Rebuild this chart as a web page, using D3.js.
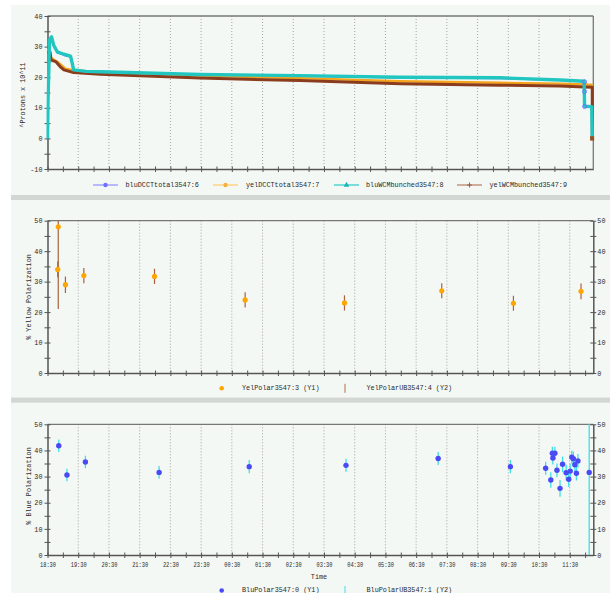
<!DOCTYPE html>
<html><head><meta charset="utf-8">
<script src="https://cdn.jsdelivr.net/npm/d3@7"></script>
<style>body{margin:0;background:#fff}svg{display:block}</style>
</head><body><svg id="c" width="610" height="593"></svg>
<script>
// ---------------- DATA ----------------
const tickLabels = ["18:30","19:30","20:30","21:30","22:30","23:30","00:30","01:30","02:30","03:30","04:30","05:30","06:30","07:30","08:30","09:30","10:30","11:30"];
const timeStart = "18:30", timeEnd = "12:16";

// Panel 1 : beam intensity (Protons x 10^11)
const bluDCCTtime = ["18:30","18:31","18:34","18:38","18:42","18:49","19:02","19:15","19:19","19:21","19:45","20:13","23:28","02:43","05:59","09:14","11:11","11:59","11:59","11:59","12:13","12:14"];
const bluDCCTval  = [0,12,31.5,32.5,30,28,27.2,26.6,23.8,22.2,21.7,21.6,20.7,20.3,19.8,19.6,19.0,18.5,15.3,10.4,10.4,0];
const yelDCCTtime = ["18:30","18:33","18:36","18:52","19:05","19:21","20:13","23:28","02:43","05:59","09:14","11:11","11:59","12:15"];
const yelDCCTval  = [29.1,28.6,26.4,24.7,22.8,22.2,21.7,20.5,19.7,18.7,18.2,17.9,17.6,17.5];
const bluWCMtime  = ["18:30","18:31","18:34","18:38","18:42","18:49","19:02","19:15","19:19","19:21","19:45","20:13","23:28","02:43","05:59","09:14","11:11","11:58","11:59","12:13","12:14"];
const bluWCMval   = [0,12,32.2,33.2,30.5,28.3,27.5,26.9,24.0,22.4,21.9,21.8,20.9,20.5,20.0,19.8,19.1,18.7,10.5,10.4,0];
const yelWCMtime  = ["18:30","18:35","18:37","18:46","18:55","19:02","19:21","20:13","23:28","02:43","05:59","09:14","11:11","11:59","12:14","12:14"];
const yelWCMval   = [28.2,28.2,25.6,25.1,23.4,22.4,21.5,21.0,19.7,18.9,17.9,17.4,17.1,16.8,16.7,0];
const legend1 = ["bluDCCTtotal3547:6","yelDCCTtotal3547:7","bluWCMbunched3547:8","yelWCMbunched3547:9"];

// Panel 2 : yellow polarization
const yelPolTime = ["18:51","18:50","19:05","19:41","21:59","00:56","04:10","07:20","09:40","11:52"];
const yelPolVal  = [48.0,34.0,29.0,32.0,31.7,24.0,23.0,27.0,22.9,26.8];
const yelPolErr  = [27,2.6,2.7,2.5,2.5,2.5,2.5,2.5,2.5,2.6];
const legend2 = ["YelPolar3547:3 (Y1)","YelPolarUB3547:4 (Y2)"];

// Panel 3 : blue polarization
const bluPolTime = ["18:52","19:08","19:44","22:08","01:04","04:13","07:13","09:34","10:43","10:53","10:56","11:01","10:57","11:05","11:11","11:16","11:23","11:28","11:31","11:34","11:37","11:40","11:43","11:46","12:08"];
const bluPolVal  = [41.8,30.6,35.6,31.6,33.8,34.3,36.9,33.8,33.2,28.7,38.9,38.9,37.1,32.4,25.5,34.7,31.5,29.0,32.1,37.4,36.8,34.5,31.3,36.0,31.6];
const bluPolErr  = [2.4,2.4,2.4,2.4,2.5,2.5,2.5,2.5,2.5,3.0,2.5,2.5,2.5,2.6,3.2,3.0,3.0,3.0,2.8,2.5,2.8,3.0,2.8,2.6,35];
const legend3 = ["BluPolar3547:0 (Y1)","BluPolarUB3547:1 (Y2)"];

// ---------------- HELPERS ----------------
function toDate(s){const [h,m]=s.split(":").map(Number);return new Date(2009,2,(h>=18?10:11),h,m);}
const FONT = "'Liberation Mono','DejaVu Sans Mono',monospace";
const TXT = "#2a2a2a";
const FS = 6.8;
const svg = d3.select("#c");
const W = 610, H = 593;

svg.append("rect").attr("width",W).attr("height",H).attr("fill","#ffffff");
const panelBoxes = [[5,195],[200,397.5],[402.7,593]];
panelBoxes.forEach(p=>svg.append("rect").attr("x",11).attr("y",p[0]).attr("width",W-11).attr("height",p[1]-p[0]).attr("fill","#f4f8f5"));
[[195,5],[397.5,5.2]].forEach(s=>svg.append("rect").attr("x",11).attr("y",s[0]).attr("width",W-11).attr("height",s[1]).attr("fill","#d3d7d3"));

const X0 = 47.5, X1 = 593.3;
const x = d3.scaleTime().domain([toDate(timeStart),toDate(timeEnd)]).range([X0,X1]);
const halfHours = d3.timeMinute.every(30).range(toDate(timeStart), toDate(timeEnd));
const labelDates = tickLabels.map(toDate);
const isLabel = d => tickLabels.includes(d3.timeFormat("%H:%M")(d));

function frame(top, bottom, yDomain, opts){
  const y = d3.scaleLinear().domain(yDomain).range([bottom, top]);
  const g = svg.append("g");
  g.selectAll("line.grid").data(labelDates.slice(1)).join("line")
    .attr("x1",d=>x(d)).attr("x2",d=>x(d)).attr("y1",top).attr("y2",bottom)
    .attr("stroke","#9a9a9a").attr("stroke-width",0.9).attr("stroke-dasharray","1,2");
  g.append("line").attr("x1",X0).attr("x2",X1).attr("y1",top).attr("y2",top).attr("stroke","#777").attr("stroke-width",1.3);
  const ax = g.append("g").attr("transform",`translate(0,${bottom})`)
    .call(d3.axisBottom(x).tickValues(halfHours).tickSizeInner(3).tickSizeOuter(0).tickPadding(4)
      .tickFormat(d => opts.xLabels && isLabel(d) ? d3.timeFormat("%H:%M")(d) : ""));
  ax.select(".domain").attr("stroke","#555").attr("stroke-width",1.5);
  ax.selectAll(".tick line").attr("y1",-2.5).attr("y2",3).attr("stroke","#555").attr("stroke-width",1);
  ax.selectAll("text").attr("font-family",FONT).attr("font-size",FS).attr("fill",TXT)
    .attr("textLength",16).attr("lengthAdjust","spacingAndGlyphs");
  const yt = d3.range(yDomain[0], yDomain[1]+0.1, 5);
  const la = g.append("g").attr("transform",`translate(${X0},0)`)
    .call(d3.axisLeft(y).tickValues(yt).tickSizeInner(3).tickSizeOuter(0).tickPadding(2)
      .tickFormat(d => d%10===0 ? d : ""));
  la.select(".domain").attr("stroke","#555").attr("stroke-width",1.5);
  la.selectAll(".tick line").attr("x1",3).attr("stroke","#555");
  la.selectAll("text").attr("font-family",FONT).attr("font-size",FS).attr("fill",TXT);
  if(opts.rightAxis){
    const ra = g.append("g").attr("transform",`translate(${X1},0)`)
      .call(d3.axisRight(y).tickValues(yt).tickSizeInner(3).tickSizeOuter(0).tickPadding(1)
        .tickFormat(d => d%10===0 ? d : ""));
    ra.select(".domain").attr("stroke","#555").attr("stroke-width",1.5);
    ra.selectAll(".tick line").attr("x1",-3).attr("stroke","#555");
    ra.selectAll("text").attr("font-family",FONT).attr("font-size",FS).attr("fill",TXT);
  } else {
    g.append("line").attr("x1",X1).attr("x2",X1).attr("y1",top).attr("y2",bottom).attr("stroke","#777").attr("stroke-width",1.3);
  }
  g.append("text").attr("transform",`translate(${opts.titleX},${opts.titleY}) rotate(-90)`)
    .attr("text-anchor","middle").attr("dominant-baseline","middle")
    .attr("font-family",FONT).attr("font-size",FS).attr("fill",TXT).text(opts.title);
  const id = "clip"+Math.round(top);
  svg.append("clipPath").attr("id",id).append("rect").attr("x",X0-1).attr("y",top).attr("width",X1-X0+2).attr("height",bottom-top);
  return {y, clip:`url(#${id})`};
}

// ---------------- PANEL 1 ----------------
const p1 = frame(16, 169, [-10,40], {title:"^Protons x 10^11", titleX:23.5, titleY:95});
const line1 = d3.line().x(d=>x(d[0])).y(d=>p1.y(d[1]));
const series1 = [
  {t:bluDCCTtime, v:bluDCCTval, c:"#6868ff", w:1.5},
  {t:yelDCCTtime, v:yelDCCTval, c:"#f5a41c", w:2.4},
  {t:yelWCMtime,  v:yelWCMval,  c:"#8a3c1c", w:3.0},
  {t:bluWCMtime,  v:bluWCMval,  c:"#22c6c0", w:3.4}
];
const g1 = svg.append("g").attr("clip-path",p1.clip);
series1.forEach(s=>{
  const pts = s.t.map((t,i)=>[toDate(t),s.v[i]]);
  g1.append("path").datum(pts).attr("d",line1).attr("fill","none").attr("stroke",s.c)
    .attr("stroke-width",s.w).attr("stroke-linejoin","round");
});
const bluPts = bluDCCTtime.map((t,i)=>[toDate(t),bluDCCTval[i]]).filter(d=>d[0]>=toDate("11:59"));
g1.selectAll("circle.bm").data(bluPts.slice(0,3)).join("circle")
  .attr("cx",d=>x(d[0])).attr("cy",d=>p1.y(d[1])).attr("r",2).attr("fill","none").attr("stroke","#6a6aff").attr("stroke-width",0.9);
const yw = yelWCMtime.length-1;
g1.append("rect").attr("x",x(toDate(yelWCMtime[yw]))-2.2).attr("y",p1.y(yelWCMval[yw])-2.2).attr("width",4.4).attr("height",4.4).attr("fill","#9a5020");

const leg1 = [
  {c:"#a8a8ff", m:"circle", mc:"#7070ff", lx:93, tx:125.5},
  {c:"#ffd68a", m:"circle", mc:"#f5b040", lx:213, tx:246},
  {c:"#5cd6d6", m:"tri",    mc:"#18b8b8", lx:334, tx:366},
  {c:"#c49a88", m:"plus",   mc:"#a05a40", lx:457, tx:489.5}
];
const LY1 = 185;
leg1.forEach((l,i)=>{
  svg.append("line").attr("x1",l.lx).attr("x2",l.lx+25).attr("y1",LY1).attr("y2",LY1).attr("stroke",l.c).attr("stroke-width",1.6);
  const mx = l.lx+12.5;
  if(l.m==="circle") svg.append("circle").attr("cx",mx).attr("cy",LY1).attr("r",2.2).attr("fill",l.mc);
  else if(l.m==="tri") svg.append("path").attr("d",d3.symbol(d3.symbolTriangle,14)()).attr("transform",`translate(${mx},${LY1})`).attr("fill",l.mc);
  else svg.append("path").attr("d",`M${mx-2.5},${LY1}H${mx+2.5}M${mx},${LY1-2.5}V${LY1+2.5}`).attr("stroke",l.mc).attr("stroke-width",1);
  svg.append("text").attr("x",l.tx).attr("y",LY1).attr("dominant-baseline","middle")
    .attr("font-family",FONT).attr("font-size",FS).attr("fill",TXT).text(legend1[i]);
});

// ---------------- PANEL 2 ----------------
const p2 = frame(220.7, 373, [0,50], {title:"% Yellow Polarization", titleX:29.5, titleY:297, rightAxis:true});
const g2 = svg.append("g").attr("clip-path",p2.clip);
const yel = yelPolTime.map((t,i)=>({d:toDate(t),v:yelPolVal[i],e:yelPolErr[i]}));
g2.selectAll("line.eb").data(yel).join("line")
  .attr("x1",d=>x(d.d)).attr("x2",d=>x(d.d)).attr("y1",d=>p2.y(d.v-d.e)).attr("y2",d=>p2.y(d.v+d.e))
  .attr("stroke","#a8623e").attr("stroke-width",1.2);
g2.selectAll("circle").data(yel).join("circle")
  .attr("cx",d=>x(d.d)).attr("cy",d=>p2.y(d.v)).attr("r",2.6).attr("fill","#ffa500");

function legendPol(ly, labels, dotC, barC){
  svg.append("circle").attr("cx",221.7).attr("cy",ly).attr("r",2.3).attr("fill",dotC);
  svg.append("text").attr("x",242).attr("y",ly).attr("dominant-baseline","middle")
    .attr("font-family",FONT).attr("font-size",FS).attr("fill",TXT).text(labels[0]);
  svg.append("line").attr("x1",345).attr("x2",345).attr("y1",ly-4.5).attr("y2",ly+4.5).attr("stroke",barC).attr("stroke-width",1);
  svg.append("text").attr("x",366.5).attr("y",ly).attr("dominant-baseline","middle")
    .attr("font-family",FONT).attr("font-size",FS).attr("fill",TXT).text(labels[1]);
}
legendPol(388.3, legend2, "#ffa500", "#b07050");

// ---------------- PANEL 3 ----------------
const p3 = frame(424.3, 555, [0,50], {title:"% Blue Polarization", titleX:29.5, titleY:486, rightAxis:true, xLabels:true});
const g3 = svg.append("g").attr("clip-path",p3.clip);
const blu = bluPolTime.map((t,i)=>({d:toDate(t),v:bluPolVal[i],e:bluPolErr[i]}));
g3.selectAll("line.eb").data(blu).join("line")
  .attr("x1",d=>x(d.d)).attr("x2",d=>x(d.d)).attr("y1",d=>p3.y(d.v-d.e)).attr("y2",d=>p3.y(d.v+d.e))
  .attr("stroke","#3ee0e6").attr("stroke-width",1.3);
g3.selectAll("circle").data(blu).join("circle")
  .attr("cx",d=>x(d.d)).attr("cy",d=>p3.y(d.v)).attr("r",2.7).attr("fill","#4a4af5");
svg.append("text").attr("x",319).attr("y",577).attr("text-anchor","middle").attr("dominant-baseline","middle")
  .attr("font-family",FONT).attr("font-size",FS).attr("fill",TXT).text("Time");
legendPol(590.5, legend3, "#4a4af5", "#3ee0e6");
</script></body></html>
